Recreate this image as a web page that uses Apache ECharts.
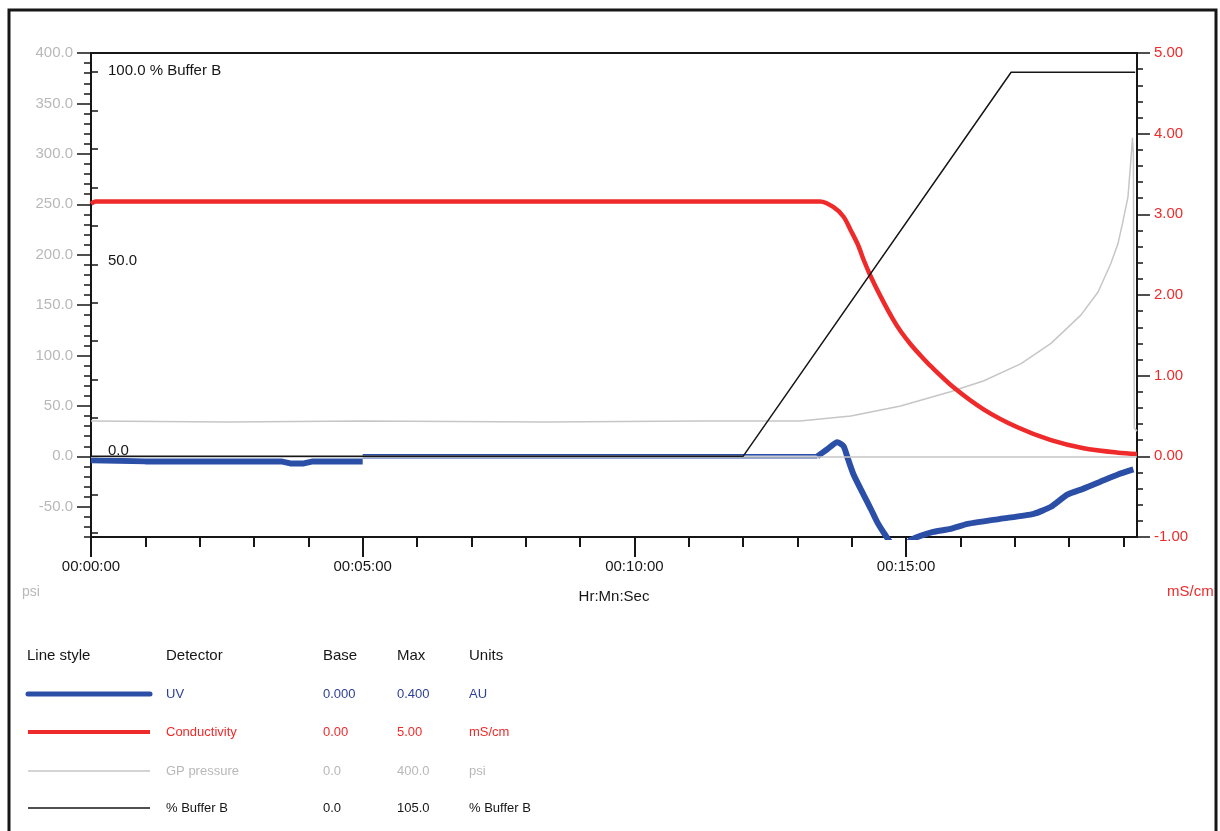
<!DOCTYPE html>
<html>
<head>
<meta charset="utf-8">
<script src="https://cdn.jsdelivr.net/npm/echarts@6/dist/echarts.min.js"></script>
<style>
  html, body { margin: 0; padding: 0; background: #ffffff; }
  #chart { width: 1220px; height: 831px; }
</style>
</head>
<body>
<div id="chart"></div>
<script>
// Run time in seconds; each trace in its own detector units.
const conductivity = [
  [0, 3.13], [5, 3.16], [805, 3.16], [820, 3.09], [831, 2.97], [839, 2.80],
  [847, 2.62], [853, 2.44], [861, 2.23], [872, 1.98], [885, 1.71], [894, 1.55],
  [905, 1.39], [916, 1.25], [927, 1.12], [952, 0.86], [986, 0.58], [1023, 0.36],
  [1060, 0.20], [1096, 0.10], [1134, 0.045], [1155, 0.03]
];
// UV absorbance (AU): loading, baseline, elution
const uvStart = [[0, -0.004], [60, -0.005], [210, -0.005], [220, -0.007], [235, -0.007], [245, -0.005], [300, -0.005]];
const uvBaseline = [[300, 0.0], [802, 0.0]];
const uvElution = [
  [802, 0.0], [813, 0.007], [824, 0.014], [831, 0.010], [836, -0.003], [842, -0.018],
  [853, -0.038], [861, -0.052], [868, -0.065], [877, -0.078], [885, -0.088], [895, -0.092],
  [905, -0.083], [930, -0.075], [949, -0.072], [968, -0.067], [1004, -0.062], [1041, -0.057],
  [1060, -0.050], [1078, -0.038], [1096, -0.032], [1115, -0.025], [1134, -0.018], [1151, -0.013]
];
const pressure = [
  [0, 35], [150, 34], [300, 35], [500, 34], [673, 35], [783, 35], [839, 40], [894, 50],
  [949, 64], [986, 75], [1027, 92], [1060, 112], [1093, 140], [1112, 163], [1126, 191],
  [1134, 211], [1139, 231], [1145, 257], [1148, 291], [1150, 316], [1151, 300], [1152, 28], [1155, 25]
];
const bufferB = [[0, 0], [720, 0], [1016, 100], [1153, 100]];

// Axis tick values and labels
const timeLabelValues = [0, 300, 600, 900];
const minuteTicks = [60, 120, 180, 240, 360, 420, 480, 540, 660, 720, 780, 840, 960, 1020, 1080, 1140];
const psiTicks = [-50, 0, 50, 100, 150, 200, 250, 300, 350, 400];
const bufferTicks = [-20, -10, 0, 10, 20, 30, 40, 50, 60, 70, 80, 90, 100];
const bufferLabels = [0, 50, 100];

// Detector table
const tableHeaders = ['Line style', 'Detector', 'Base', 'Max', 'Units'];
const detectorNames = ['UV', 'Conductivity', 'GP pressure', '% Buffer B'];
const detectorBase = ['0.000', '0.00', '0.0', '0.0'];
const detectorMax = ['0.400', '5.00', '400.0', '105.0'];
const detectorUnits = ['AU', 'mS/cm', 'psi', '% Buffer B'];

const BLUE = '#2b4ea6', RED = '#ee2a2a', GREY = '#c6c6c6', BLACK = '#161616';
const TEXT_BLUE = '#2c3f98', TEXT_RED = '#ef2a2a', TEXT_GREY = '#b8b8b8';
const SANS = '"Liberation Sans", Arial, sans-serif';
const AXIS_FONT = 15;

function hms(s) {
  const h = Math.floor(s / 3600), m = Math.floor((s % 3600) / 60), sec = Math.round(s % 60);
  const p = v => String(v).padStart(2, '0');
  return p(h) + ':' + p(m) + ':' + p(sec);
}

const chart = echarts.init(document.getElementById('chart'), null, { renderer: 'canvas' });

const grid = { left: 91, right: 83, top: 53, bottom: 294, show: true, borderColor: BLACK, borderWidth: 2, containLabel: false };

const tableColsX = [27, 166, 323, 397, 469];
const rowY = [694, 732, 771, 808];
const rowColor = [TEXT_BLUE, TEXT_RED, TEXT_GREY, BLACK];
const sampleStyle = [
  { stroke: BLUE, lineWidth: 5, lineCap: 'round' },
  { stroke: RED, lineWidth: 4 },
  { stroke: GREY, lineWidth: 1.5 },
  { stroke: BLACK, lineWidth: 1.5 }
];

const graphics = [
  { type: 'rect', shape: { x: 9, y: 10, width: 1207, height: 840 }, style: { fill: null, stroke: BLACK, lineWidth: 3 }, silent: true },
  { type: 'text', x: 22, y: 592, style: { text: 'psi', fill: TEXT_GREY, font: '14px ' + SANS, textVerticalAlign: 'middle' } },
  { type: 'text', x: 1167, y: 592, style: { text: 'mS/cm', fill: TEXT_RED, font: '15px ' + SANS, textVerticalAlign: 'middle' } }
];
tableHeaders.forEach((h, i) => {
  graphics.push({ type: 'text', x: tableColsX[i], y: 656, style: { text: h, fill: BLACK, font: '15px ' + SANS, textVerticalAlign: 'middle' } });
});
detectorNames.forEach((name, r) => {
  graphics.push({ type: 'line', shape: { x1: 28, y1: rowY[r], x2: 150, y2: rowY[r] }, style: sampleStyle[r] });
  [name, detectorBase[r], detectorMax[r], detectorUnits[r]].forEach((t, c) => {
    graphics.push({ type: 'text', x: tableColsX[c + 1], y: rowY[r], style: { text: t, fill: rowColor[r], font: '13px ' + SANS, textVerticalAlign: 'middle' } });
  });
});

const option = {
  animation: false,
  backgroundColor: '#ffffff',
  grid: grid,
  xAxis: [
    {
      type: 'value', min: 0, max: 1155, position: 'bottom',
      name: 'Hr:Mn:Sec', nameLocation: 'middle', nameGap: 52,
      nameTextStyle: { color: BLACK, fontFamily: SANS, fontSize: AXIS_FONT },
      axisLine: { show: true, onZero: false, lineStyle: { color: BLACK, width: 2 } },
      axisTick: { show: true, customValues: timeLabelValues, length: 20, lineStyle: { color: BLACK, width: 2 } },
      axisLabel: { show: true, customValues: timeLabelValues, formatter: v => hms(v), margin: 22, color: BLACK, fontFamily: SANS, fontSize: AXIS_FONT },
      splitLine: { show: false }
    },
    {
      type: 'value', min: 0, max: 1155, position: 'bottom',
      axisLine: { show: false, onZero: false },
      axisTick: { show: true, customValues: minuteTicks, length: 10, lineStyle: { color: BLACK, width: 2 } },
      axisLabel: { show: false },
      splitLine: { show: false }
    }
  ],
  yAxis: [
    { // GP pressure (psi)
      type: 'value', min: -80, max: 400, position: 'left',
      axisLine: { show: true, onZero: false, lineStyle: { color: BLACK, width: 2 } },
      axisTick: { show: true, customValues: psiTicks, length: 14, lineStyle: { color: BLACK, width: 1.5 } },
      axisLabel: { show: true, customValues: psiTicks, formatter: v => v.toFixed(1), margin: 18, color: TEXT_GREY, fontFamily: SANS, fontSize: AXIS_FONT },
      splitLine: { show: false }
    },
    { // psi minor ticks
      type: 'value', min: -80, max: 400, interval: 10, position: 'left',
      axisLine: { show: false, onZero: false },
      axisTick: { show: true, length: 7, lineStyle: { color: BLACK, width: 1.5 } },
      axisLabel: { show: false },
      splitLine: { show: false }
    },
    { // % Buffer B, labelled inside the plot
      type: 'value', min: -21, max: 105, position: 'left',
      axisLine: { show: false, onZero: false },
      axisTick: { show: true, inside: true, customValues: bufferTicks, length: 7, lineStyle: { color: BLACK, width: 1.5 } },
      axisLabel: {
        show: true, inside: true, customValues: bufferLabels, margin: 17,
        formatter: v => v === 100 ? '{top|100.0 % Buffer B}' : (v === 0 ? '{low|0.0}' : '{mid|' + v.toFixed(1) + '}'),
        color: BLACK, fontFamily: SANS, fontSize: AXIS_FONT, verticalAlign: 'middle',
        rich: {
          top: { fontFamily: SANS, fontSize: AXIS_FONT, color: BLACK, padding: [0, 0, 2, 0] },
          mid: { fontFamily: SANS, fontSize: AXIS_FONT, color: BLACK, padding: [0, 0, 7, 0] },
          low: { fontFamily: SANS, fontSize: AXIS_FONT, color: BLACK, padding: [0, 0, 10, 0] }
        }
      },
      splitLine: { show: false }
    },
    { // Conductivity (mS/cm)
      type: 'value', min: -1, max: 5, interval: 1, position: 'right',
      axisLine: { show: true, onZero: false, lineStyle: { color: BLACK, width: 2 } },
      axisTick: { show: true, length: 13, lineStyle: { color: BLACK, width: 1.5 } },
      minorTick: { show: true, splitNumber: 5, length: 6, lineStyle: { color: BLACK, width: 1.5 } },
      axisLabel: { show: true, formatter: v => v.toFixed(2), margin: 17, color: TEXT_RED, fontFamily: SANS, fontSize: AXIS_FONT },
      splitLine: { show: false }, minorSplitLine: { show: false }
    },
    { // UV (AU)
      type: 'value', min: -0.08, max: 0.4, show: false,
      splitLine: { show: false }
    }
  ],
  series: [
    {
      name: 'GP pressure', type: 'line', xAxisIndex: 0, yAxisIndex: 0, data: pressure,
      showSymbol: false, clip: true, lineStyle: { color: GREY, width: 1.5 }, z: 2,
      markLine: {
        silent: true, symbol: 'none', label: { show: false },
        lineStyle: { color: GREY, width: 1.5, type: 'solid' },
        data: [{ yAxis: 0 }]
      }
    },
    {
      name: 'Conductivity', type: 'line', xAxisIndex: 0, yAxisIndex: 3, data: conductivity,
      showSymbol: false, clip: true, smooth: 0.3, lineStyle: { color: RED, width: 4.5 }, z: 3
    },
    {
      name: 'UV', type: 'line', xAxisIndex: 0, yAxisIndex: 4, data: uvStart,
      showSymbol: false, clip: true, lineStyle: { color: BLUE, width: 6 }, z: 4
    },
    {
      name: 'UV', type: 'line', xAxisIndex: 0, yAxisIndex: 4, data: uvBaseline,
      showSymbol: false, clip: true, lineStyle: { color: BLUE, width: 4.5 }, z: 4
    },
    {
      name: 'UV', type: 'line', xAxisIndex: 0, yAxisIndex: 4, data: uvBaseline,
      showSymbol: false, clip: true, lineStyle: { color: '#c9d1e8', width: 1.5 }, z: 4
    },
    {
      name: 'UV', type: 'line', xAxisIndex: 0, yAxisIndex: 4, data: uvElution,
      showSymbol: false, clip: true, smooth: 0.2, lineStyle: { color: BLUE, width: 6 }, z: 4
    },
    {
      name: '% Buffer B', type: 'line', xAxisIndex: 0, yAxisIndex: 2, data: bufferB,
      showSymbol: false, clip: true, lineStyle: { color: BLACK, width: 1.5 }, z: 5
    }
  ],
  graphic: graphics
};

chart.setOption(option);
</script>
</body>
</html>
